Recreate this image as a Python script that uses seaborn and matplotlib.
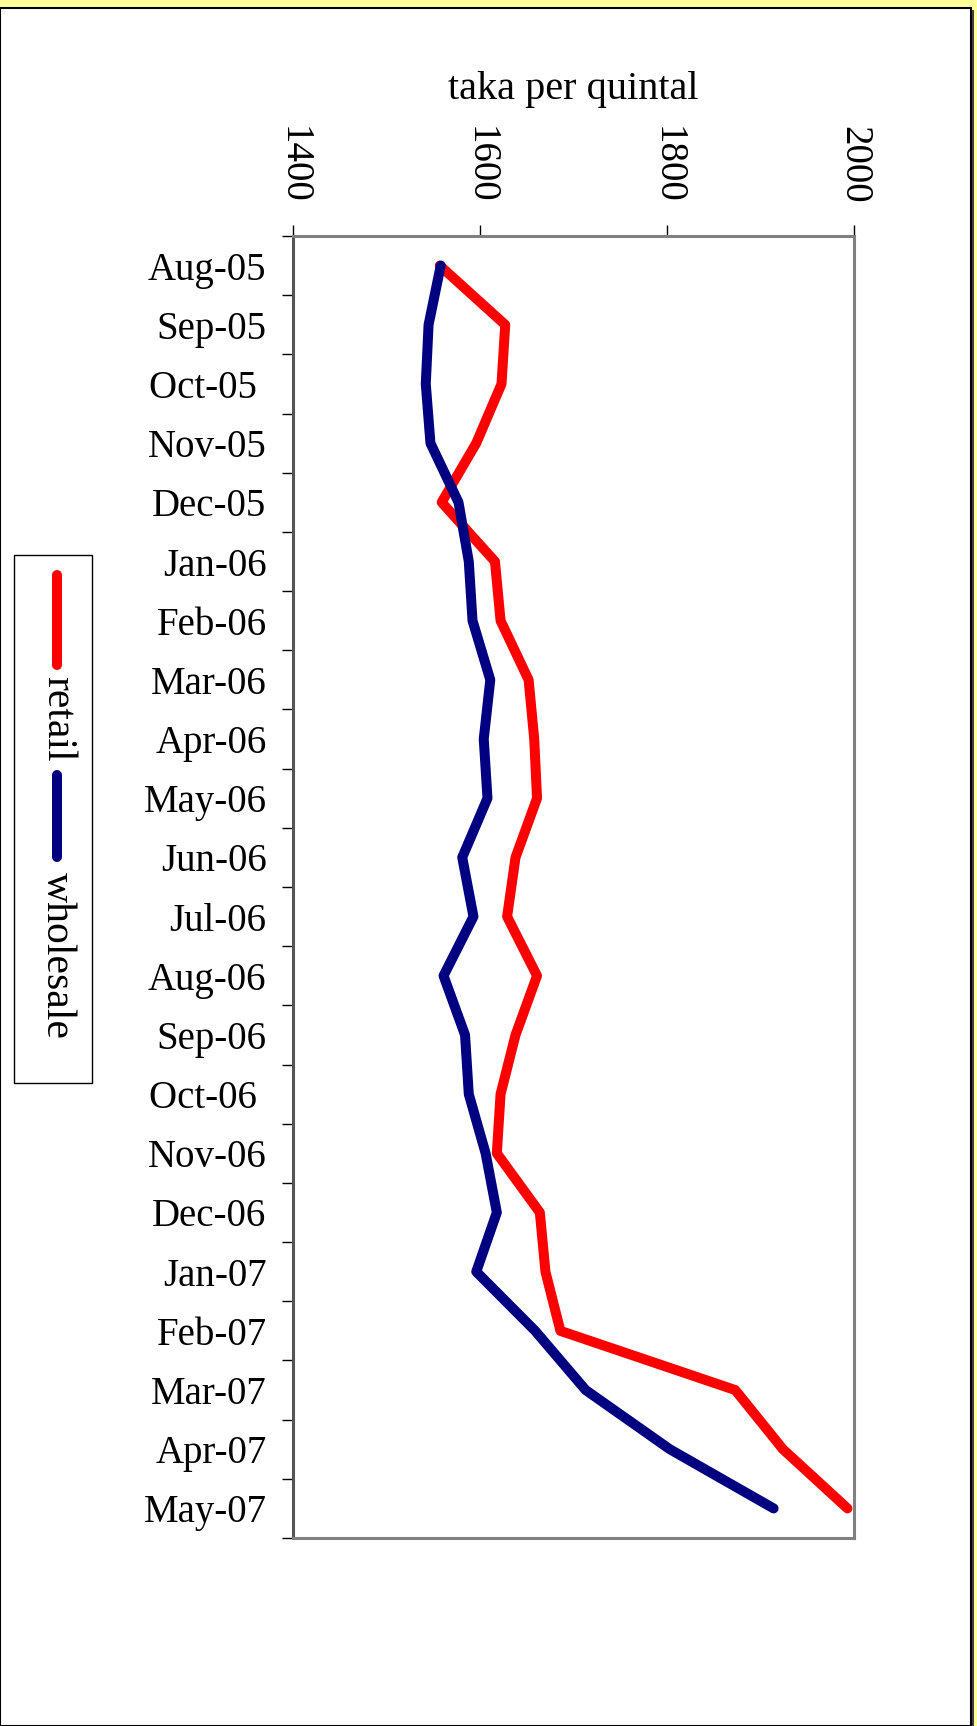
import pandas as pd
import matplotlib
matplotlib.use("Agg")
import matplotlib.pyplot as plt
import seaborn as sns
from matplotlib.lines import Line2D
from matplotlib.patches import Rectangle

# monthly prices, taka per quintal
months = ['Aug-05', 'Sep-05', 'Oct-05 ', 'Nov-05', 'Dec-05', 'Jan-06', 'Feb-06',
          'Mar-06', 'Apr-06', 'May-06', 'Jun-06', 'Jul-06', 'Aug-06', 'Sep-06',
          'Oct-06 ', 'Nov-06', 'Dec-06', 'Jan-07', 'Feb-07', 'Mar-07', 'Apr-07', 'May-07']
retail = [1557, 1627, 1623, 1596, 1559, 1616, 1622, 1652, 1658, 1661, 1638,
          1629, 1661, 1638, 1622, 1618, 1664, 1670, 1686, 1873, 1924, 1993]
wholesale = [1558, 1545, 1542, 1547, 1577, 1588, 1592, 1611, 1604, 1608, 1581,
             1593, 1561, 1584, 1588, 1606, 1618, 1596, 1659, 1713, 1803, 1914]
value_ticks = [1400, 1600, 1800, 2000]

df = pd.DataFrame({
    "pos": list(range(len(months))) * 2,
    "price": retail + wholesale,
    "series": ["retail"] * len(months) + ["wholesale"] * len(months),
})
colors = {"retail": "#FF0000", "wholesale": "#000080"}

sns.set_style("white")
plt.rcParams['font.family'] = ['Liberation Serif', 'DejaVu Serif']
plt.rcParams['text.color'] = 'black'
plt.rcParams['axes.labelcolor'] = 'black'
plt.rcParams['xtick.color'] = 'black'
plt.rcParams['ytick.color'] = 'black'

W, H = 977, 1726
fig = plt.figure(figsize=(W / 100, H / 100), dpi=100)
fig.patch.set_facecolor("#FFFF99")

def fx(x):
    return x / W

def fy(y):
    return 1 - y / H

# outer chart frame with shadow
fig.add_artist(Rectangle((fx(3), 0), fx(971), fy(10), transform=fig.transFigure,
                         facecolor="#404040", edgecolor="none", zorder=0))
fig.add_artist(Rectangle((0, 0), fx(971), fy(8), transform=fig.transFigure,
                         facecolor="white", edgecolor="black", lw=1.5, zorder=0))

ax = fig.add_axes([fx(293), fy(1538), fx(854 - 293), (1538 - 236) / H])
ax.set_facecolor("none")

sns.lineplot(data=df, x="price", y="pos", hue="series", palette=colors, orient="y",
             sort=False, legend=False, lw=7.2, ax=ax, zorder=3)
for ln in ax.lines:
    ln.set_solid_capstyle("round")

ax.set_xlim(1400, 2000)
ax.set_ylim(len(months) - 0.5, -0.5)
ax.xaxis.tick_top()
ax.xaxis.set_label_position("top")
ax.set_xticks(value_ticks)
ax.set_xticklabels([str(v) for v in value_ticks], rotation=-90, fontsize=28)
ax.tick_params(axis="x", direction="out", length=8, width=1, color="black", pad=15)

ax.set_yticks(range(len(months)))
ax.set_yticklabels(months, fontsize=28)
ax.set_yticks([i - 0.5 for i in range(len(months) + 1)], minor=True)
ax.tick_params(axis="y", which="major", length=0, pad=19)
ax.tick_params(axis="y", which="minor", direction="out", length=8, width=1, color="black", left=True)

ax.set_xlabel("taka per quintal", fontsize=29, labelpad=20)
ax.set_ylabel("")

for side in ["top", "right", "bottom"]:
    ax.spines[side].set_color("#808080")
    ax.spines[side].set_linewidth(2.2)
ax.spines["left"].set_color("#555555")
ax.spines["left"].set_linewidth(2.2)

# legend (rotated like the rest of the chart)
fig.add_artist(Rectangle((fx(14), fy(1083)), fx(92 - 14), (1083 - 555) / H,
                         transform=fig.transFigure, fill=False, edgecolor="black", lw=1))
fig.add_artist(Line2D([fx(57), fx(57)], [fy(575), fy(665)], transform=fig.transFigure,
                      color=colors["retail"], lw=7.2, solid_capstyle="round"))
fig.text(fx(57), fy(676), "retail", rotation=-90, ha="center", va="top", fontsize=30)
fig.add_artist(Line2D([fx(57), fx(57)], [fy(775), fy(857)], transform=fig.transFigure,
                      color=colors["wholesale"], lw=7.2, solid_capstyle="round"))
fig.text(fx(57), fy(872), "wholesale", rotation=-90, ha="center", va="top", fontsize=30)

fig.savefig("out.png", dpi=100, facecolor=fig.get_facecolor())
